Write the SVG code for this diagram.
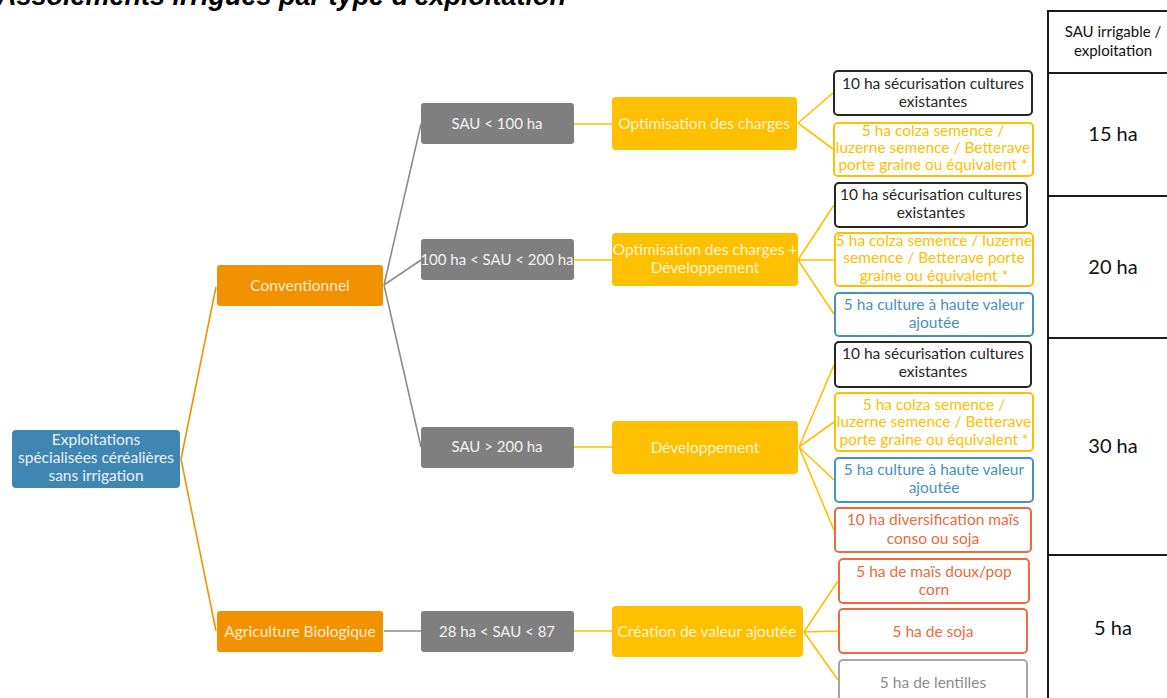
<svg xmlns="http://www.w3.org/2000/svg" width="1167" height="698" viewBox="0 0 1167 698">
  <style>
    text { font-family: "Lato", "Open Sans", "Liberation Sans", sans-serif; font-size: 15.5px; text-anchor: middle; }
    .title { font-family: "Liberation Sans", sans-serif; font-size: 27px; font-weight: bold; font-style: italic; text-anchor: start; fill: #000; }
    .root rect { fill: #3F86B2; }
    .root text { fill: #EAF1F7; }
    .type rect { fill: #F39200; }
    .type text { fill: #FFEBD0; }
    .size rect { fill: #7F7F7F; }
    .size text { fill: #F2F2F2; font-size: 15px; }
    .strat rect { fill: #FFC000; }
    .strat text { fill: #FFF4D6; }
    .leaf rect { fill: #fff; stroke-width: 2; }
    .k rect { stroke: #262626; } .k text { fill: #262626; }
    .y rect { stroke: #FFC000; } .y text { fill: #FFC000; }
    .b rect { stroke: #4A8FC2; } .b text { fill: #4A8FC2; }
    .r rect { stroke: #EC6A40; } .r text { fill: #EC6A40; }
    .g rect { stroke: #A6A6A6; } .g text { fill: #8C8C8C; }
    .links path { fill: none; stroke-width: 1.6; }
    .lo { stroke: #F39200; }
    .lg { stroke: #8C8C8C; }
    .ly { stroke: #FFC000; }
    .table line { stroke: #1A1A1A; stroke-width: 2; }
    .table text { fill: #111; }
    .table .head { font-size: 15px; }
    .table .val { font-size: 20px; }
  </style>

  <text class="title" x="-3" y="5">Assolements irrigués par type d'exploitation</text>

  <!-- connectors -->
  <g class="links" id="connectors">
    <path class="lo" d="M181,459 L216,287 M181,459 L216,631"/>
    <path class="lg" d="M384,285 L421,124 M384,285 L421,260 M384,285 L421,447 M384,631 L421,631"/>
    <path class="ly" d="M574,124 H612 M574,260 H612 M574,447 H612 M574,631 H612"/>
    <path class="ly" d="M798,123 L833,93 M798,123 L833,149"/>
    <path class="ly" d="M798,260 L834,205 M798,260 L834,260 M798,260 L834,314"/>
    <path class="ly" d="M799,447 L834,365 M799,447 L834,422 M799,447 L834,480 M799,447 L834,530"/>
    <path class="ly" d="M804,632 L838,581 M804,632 L838,631 M804,632 L838,680"/>
  </g>

  <!-- root -->
  <g id="root" class="root">
    <rect x="12" y="430" width="168" height="58" rx="4"/>
    <text x="96" y="445">Exploitations</text>
    <text x="96" y="463">spécialisées céréalières</text>
    <text x="96" y="481">sans irrigation</text>
  </g>

  <!-- farming type -->
  <g id="conventionnel" class="type">
    <rect x="217" y="265" width="166" height="41" rx="3"/>
    <text x="300" y="291">Conventionnel</text>
  </g>
  <g id="bio" class="type">
    <rect x="217" y="611" width="166" height="41" rx="3"/>
    <text x="300" y="637">Agriculture Biologique</text>
  </g>

  <!-- farm size -->
  <g id="sau-100" class="size">
    <rect x="421" y="103" width="153" height="41" rx="3"/>
    <text x="497" y="129">SAU &lt; 100 ha</text>
  </g>
  <g id="sau-100-200" class="size">
    <rect x="421" y="239" width="153" height="41" rx="3"/>
    <text x="497" y="265">100 ha &lt; SAU &lt; 200 ha</text>
  </g>
  <g id="sau-200" class="size">
    <rect x="421" y="427" width="153" height="41" rx="3"/>
    <text x="497" y="452">SAU &gt; 200 ha</text>
  </g>
  <g id="sau-28-87" class="size">
    <rect x="421" y="611" width="153" height="41" rx="3"/>
    <text x="497" y="637">28 ha &lt; SAU &lt; 87</text>
  </g>

  <!-- strategies -->
  <g id="strat-opt" class="strat">
    <rect x="612" y="97" width="185" height="53" rx="4"/>
    <text x="704" y="129">Optimisation des charges</text>
  </g>
  <g id="strat-opt-dev" class="strat">
    <rect x="612" y="233" width="186" height="53" rx="4"/>
    <text x="705" y="255">Optimisation des charges +</text>
    <text x="705" y="273">Développement</text>
  </g>
  <g id="strat-dev" class="strat">
    <rect x="612" y="421" width="186" height="53" rx="4"/>
    <text x="705" y="453">Développement</text>
  </g>
  <g id="strat-va" class="strat">
    <rect x="612" y="606" width="191" height="51" rx="4"/>
    <text x="707" y="637">Création de valeur ajoutée</text>
  </g>

  <!-- crops: SAU < 100 ha -->
  <g id="c1" class="leaf k">
    <rect x="834" y="71" width="198" height="44" rx="4"/>
    <text x="933" y="89">10 ha sécurisation cultures</text>
    <text x="933" y="107">existantes</text>
  </g>
  <g id="c2" class="leaf y">
    <rect x="834" y="123" width="199" height="53" rx="4"/>
    <text x="933" y="136">5 ha colza semence /</text>
    <text x="933" y="153">luzerne semence / Betterave</text>
    <text x="933" y="170">porte graine ou équivalent *</text>
  </g>

  <!-- crops: 100-200 ha -->
  <g id="c3" class="leaf k">
    <rect x="835" y="183" width="192" height="44" rx="4"/>
    <text x="931" y="200">10 ha sécurisation cultures</text>
    <text x="931" y="218">existantes</text>
  </g>
  <g id="c4" class="leaf y">
    <rect x="835" y="233" width="198" height="53" rx="4"/>
    <text x="934" y="246">5 ha colza semence / luzerne</text>
    <text x="934" y="263">semence / Betterave porte</text>
    <text x="934" y="281">graine ou équivalent *</text>
  </g>
  <g id="c5" class="leaf b">
    <rect x="835" y="293" width="198" height="43" rx="4"/>
    <text x="934" y="310">5 ha culture à haute valeur</text>
    <text x="934" y="328">ajoutée</text>
  </g>

  <!-- crops: > 200 ha -->
  <g id="c6" class="leaf k">
    <rect x="835" y="342" width="196" height="45" rx="4"/>
    <text x="933" y="359">10 ha sécurisation cultures</text>
    <text x="933" y="377">existantes</text>
  </g>
  <g id="c7" class="leaf y">
    <rect x="835" y="393" width="198" height="58" rx="4"/>
    <text x="934" y="410">5 ha colza semence /</text>
    <text x="934" y="427">luzerne semence / Betterave</text>
    <text x="934" y="445">porte graine ou équivalent *</text>
  </g>
  <g id="c8" class="leaf b">
    <rect x="835" y="458" width="198" height="44" rx="4"/>
    <text x="934" y="475">5 ha culture à haute valeur</text>
    <text x="934" y="493">ajoutée</text>
  </g>
  <g id="c9" class="leaf r">
    <rect x="835" y="508" width="196" height="44" rx="4"/>
    <text x="933" y="525">10 ha diversification maïs</text>
    <text x="933" y="544">conso ou soja</text>
  </g>

  <!-- crops: organic -->
  <g id="c10" class="leaf r">
    <rect x="839" y="559" width="190" height="44" rx="4"/>
    <text x="934" y="577">5 ha de maïs doux/pop</text>
    <text x="934" y="595">corn</text>
  </g>
  <g id="c11" class="leaf r">
    <rect x="839" y="609" width="188" height="44" rx="4"/>
    <text x="933" y="637">5 ha de soja</text>
  </g>
  <g id="c12" class="leaf g">
    <rect x="839" y="660" width="188" height="50" rx="4"/>
    <text x="933" y="688">5 ha de lentilles</text>
  </g>

  <!-- irrigable area per farm -->
  <g id="table" class="table">
    <line x1="1048" y1="10" x2="1048" y2="698"/>
    <line x1="1047" y1="11" x2="1167" y2="11"/>
    <line x1="1047" y1="73" x2="1167" y2="73"/>
    <line x1="1047" y1="196" x2="1167" y2="196"/>
    <line x1="1047" y1="338" x2="1167" y2="338"/>
    <line x1="1047" y1="555" x2="1167" y2="555"/>
    <text class="head" x="1113" y="37">SAU irrigable /</text>
    <text class="head" x="1113" y="56">exploitation</text>
    <text class="val" x="1113" y="141">15 ha</text>
    <text class="val" x="1113" y="274">20 ha</text>
    <text class="val" x="1113" y="453">30 ha</text>
    <text class="val" x="1113" y="635">5 ha</text>
  </g>
</svg>
